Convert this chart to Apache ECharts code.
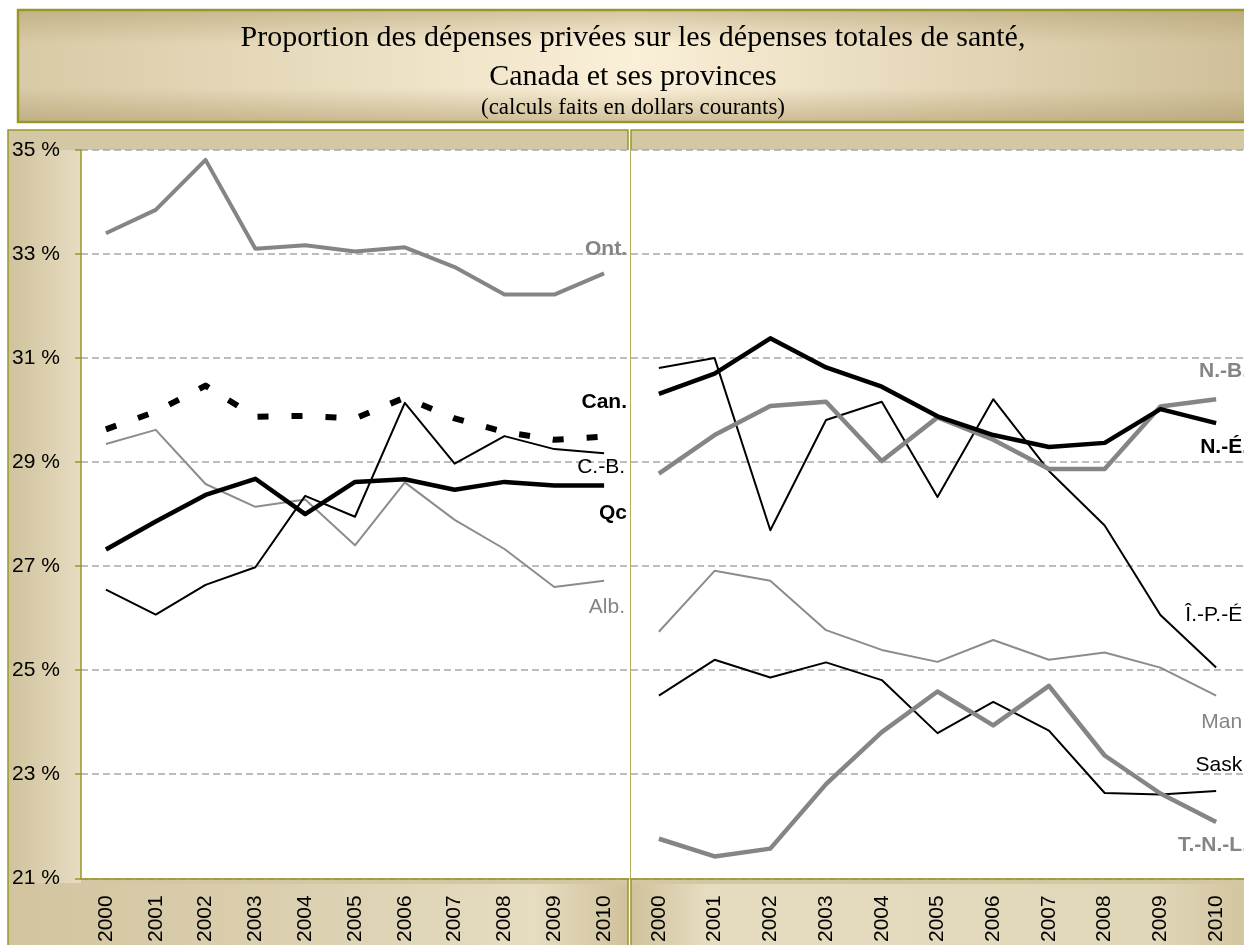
<!DOCTYPE html>
<html>
<head>
<meta charset="utf-8">
<script src="https://cdn.jsdelivr.net/npm/echarts@6/dist/echarts.min.js"></script>
<style>
  html, body { margin: 0; padding: 0; background: #fff; }
  #chart { width: 1244px; height: 945px; }
</style>
</head>
<body>
<div id="chart"></div>
<script>
// annees (axe des x)
var years = ['2000', '2001', '2002', '2003', '2004', '2005', '2006', '2007', '2008', '2009', '2010'];

// panneau de gauche (%)
var ont  = [33.40, 33.85, 34.81, 33.10, 33.17, 33.05, 33.13, 32.75, 32.22, 32.22, 32.63];
var can  = [29.63, 29.97, 30.47, 29.87, 29.89, 29.84, 30.24, 29.84, 29.58, 29.43, 29.49];
var cb   = [26.55, 26.07, 26.64, 26.98, 28.35, 27.95, 30.14, 28.97, 29.50, 29.25, 29.17];
var qc   = [27.32, 27.86, 28.37, 28.68, 28.00, 28.62, 28.67, 28.47, 28.62, 28.55, 28.55];
var alb  = [29.35, 29.62, 28.58, 28.14, 28.28, 27.40, 28.61, 27.89, 27.33, 26.60, 26.72];

// panneau de droite (%)
var ne   = [30.31, 30.70, 31.38, 30.82, 30.45, 29.88, 29.52, 29.29, 29.37, 30.02, 29.75];
var nb   = [28.78, 29.52, 30.08, 30.16, 29.02, 29.86, 29.43, 28.87, 28.87, 30.07, 30.21];
var ipe  = [30.81, 31.00, 27.69, 29.81, 30.16, 28.33, 30.21, 28.83, 27.78, 26.06, 25.05];
var man  = [25.74, 26.91, 26.72, 25.77, 25.39, 25.16, 25.58, 25.20, 25.34, 25.05, 24.51];
var sask = [24.51, 25.20, 24.86, 25.15, 24.81, 23.79, 24.39, 23.84, 22.64, 22.61, 22.68];
var tnl  = [21.76, 21.42, 21.57, 22.81, 23.81, 24.59, 23.94, 24.70, 23.36, 22.63, 22.08];

// axe des y
var yMin = 21, yMax = 35, yStep = 2;

// textes
var titleLines = [
    'Proportion des dépenses privées sur les dépenses totales de santé,',
    'Canada et ses provinces',
    '(calculs faits en dollars courants)'
];

var OLIVE = '#97972a';
var BEIGE = '#d4c7a3';
var LIGHT = '#e6dcc0';
var GRAY = '#858585';
var FONT = '"Liberation Sans", Arial, sans-serif';
var SERIF = '"Liberation Serif", "Times New Roman", serif';

// fonction pour creer une serie
function serie(name, data, grid, color, width, dash) {
    return {
        name: name,
        type: 'line',
        xAxisIndex: grid,
        yAxisIndex: grid,
        data: data,
        symbol: 'none',
        smooth: false,
        animation: false,
        lineStyle: { color: color, width: width, type: dash || 'solid', cap: 'butt', join: 'round' }
    };
}

// etiquette en bout de ligne
function etiquette(text, x, y, align, bold, color) {
    return {
        type: 'text', z: 10, x: x, y: y,
        style: {
            text: text, fill: color, align: align, verticalAlign: 'middle',
            font: (bold ? 'bold ' : '') + '21px ' + FONT
        }
    };
}

function gradH(stops) {
    return new echarts.graphic.LinearGradient(0, 0, 1, 0, stops.map(function (s) {
        return { offset: s[0], color: s[1] };
    }));
}

var chart = echarts.init(document.getElementById('chart'));

var splitLine = { show: true, lineStyle: { color: '#a8a8a8', width: 1.5, type: [7, 4] } };

chart.setOption({
    animation: false,
    backgroundColor: '#fff',
    grid: [
        { left: 81, top: 150, width: 548, height: 733, show: true, backgroundColor: '#fff', borderWidth: 0 },
        { left: 631, top: 150, width: 619, height: 733, show: true, backgroundColor: '#fff', borderWidth: 0 }
    ],
    xAxis: [0, 1].map(function (i) {
        return {
            type: 'category', gridIndex: i, data: years, boundaryGap: true,
            axisLine: { lineStyle: { color: OLIVE, width: 1.5 } },
            axisTick: { show: false },
            axisLabel: { rotate: 90, margin: 17, color: '#000', fontSize: 21, fontFamily: FONT }
        };
    }),
    yAxis: [
        {
            type: 'value', gridIndex: 0, min: yMin, max: yMax, interval: yStep,
            axisLine: { show: true, lineStyle: { color: OLIVE, width: 1.5 } },
            axisTick: { show: true, length: 6, lineStyle: { color: OLIVE, width: 1.5 } },
            axisLabel: { formatter: '{value} %', align: 'left', margin: 69, color: '#000', fontSize: 21, fontFamily: FONT },
            splitLine: splitLine
        },
        {
            type: 'value', gridIndex: 1, min: yMin, max: yMax, interval: yStep,
            axisLine: { show: false },
            axisTick: { show: false },
            axisLabel: { show: false },
            splitLine: splitLine
        }
    ],
    graphic: [
        // cadre du titre
        { type: 'rect', z: -5, shape: { x: 18, y: 10, width: 1232, height: 112 },
          style: { fill: gradH([[0, '#d8caa6'], [0.5, '#faefd8'], [1, '#cfbf99']]), stroke: OLIVE, lineWidth: 2.5 } },
        { type: 'rect', z: -4, shape: { x: 19, y: 11, width: 1230, height: 110 },
          style: { fill: new echarts.graphic.LinearGradient(0, 0, 0, 1, [
              { offset: 0, color: 'rgba(170,150,100,0.45)' }, { offset: 0.3, color: 'rgba(170,150,100,0)' },
              { offset: 0.7, color: 'rgba(170,150,100,0)' }, { offset: 1, color: 'rgba(170,150,100,0.5)' }]) } },
        { type: 'text', z: 10, x: 633, y: 38, style: { text: titleLines[0], align: 'center', verticalAlign: 'middle', fill: '#000', font: '30px ' + SERIF } },
        { type: 'text', z: 10, x: 633, y: 77, style: { text: titleLines[1], align: 'center', verticalAlign: 'middle', fill: '#000', font: '30px ' + SERIF } },
        { type: 'text', z: 10, x: 633, y: 108, style: { text: titleLines[2], align: 'center', verticalAlign: 'middle', fill: '#000', font: '23px ' + SERIF } },

        // panneaux
        { type: 'rect', z: -5, shape: { x: 8, y: 130, width: 620, height: 830 },
          style: { fill: BEIGE, stroke: OLIVE, lineWidth: 1.5 } },
        { type: 'rect', z: -5, shape: { x: 631, y: 130, width: 619, height: 830 },
          style: { fill: BEIGE, stroke: OLIVE, lineWidth: 1.5 } },
        { type: 'rect', z: -4, shape: { x: 9, y: 150, width: 72, height: 733 },
          style: { fill: gradH([[0, '#d0c29d'], [1, LIGHT]]) } },
        { type: 'rect', z: -4, shape: { x: 9, y: 884, width: 618, height: 62 },
          style: { fill: gradH([[0, '#d2c49f'], [0.55, '#ddd2b3'], [0.85, LIGHT], [1, '#d0c29c']]) } },
        { type: 'rect', z: -4, shape: { x: 632, y: 884, width: 617, height: 62 },
          style: { fill: gradH([[0, '#d0c29c'], [0.12, LIGHT], [0.85, '#e0d6b8'], [1, '#d2c49f']]) } },

        // etiquettes des series
        etiquette('Ont.', 627, 249, 'right', true, GRAY),
        etiquette('Can.', 627, 402, 'right', true, '#000'),
        etiquette('C.-B.', 625, 467, 'right', false, '#000'),
        etiquette('Qc', 627, 513, 'right', true, '#000'),
        etiquette('Alb.', 625, 607, 'right', false, GRAY),
        etiquette('N.-B.', 1248, 371, 'right', true, GRAY),
        etiquette('N.-É.', 1248, 447, 'right', true, '#000'),
        etiquette('Î.-P.-É.', 1248, 615, 'right', false, '#000'),
        etiquette('Man.', 1248, 722, 'right', false, GRAY),
        etiquette('Sask.', 1248, 765, 'right', false, '#000'),
        etiquette('T.-N.-L.', 1248, 845, 'right', true, GRAY)
    ],
    series: [
        serie('Ont.', ont, 0, GRAY, 4),
        serie('Alb.', alb, 0, '#8c8c8c', 2),
        serie('C.-B.', cb, 0, '#000', 2),
        serie('Qc', qc, 0, '#000', 4.5),
        serie('Can.', can, 0, '#000', 6, [11, 23]),
        serie('Man.', man, 1, '#8c8c8c', 2),
        serie('Sask.', sask, 1, '#000', 2),
        serie('T.-N.-L.', tnl, 1, GRAY, 4.5),
        serie('Î.-P.-É.', ipe, 1, '#000', 2),
        serie('N.-B.', nb, 1, GRAY, 4.5),
        serie('N.-É.', ne, 1, '#000', 4.5)
    ]
});
</script>
</body>
</html>
